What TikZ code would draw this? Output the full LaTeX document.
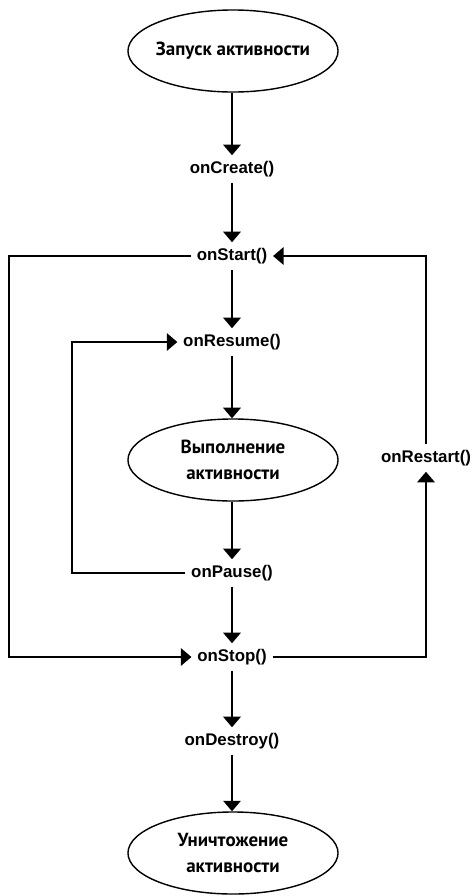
\documentclass[tikz,border=0pt]{standalone}
\usepackage{fontspec}
\setmainfont{Liberation Sans}
\newfontfamily\handfont{PT Sans}
\usetikzlibrary{shapes.geometric, arrows.meta}
\tikzset{line/.style={line width=1pt, black}}
\tikzset{flow/.style={line, -{Triangle[width=12.5pt,length=7.5pt]}}}
\tikzset{call/.style={font=\fontsize{12}{14}\selectfont\bfseries, inner sep=4pt}}
\tikzset{stage/.style={draw, line width=1pt, ellipse, minimum width=5.25cm, minimum height=2.05cm,
  inner sep=0pt, inner xsep=-1cm, align=center, font=\handfont\fontsize{13.5}{19}\selectfont\bfseries}}

\begin{document}
\begin{tikzpicture}[x=0.025cm,y=-0.025cm]
\useasboundingbox (0,0) rectangle (475,896);
\node[stage] (launch) at (233,51) {Запуск активности};
\node[call] (create) at (232,169) {onCreate()};
\node[call] (start) at (232,256) {onStart()};
\node[call] (resume) at (232,342) {onResume()};
\node[stage] (running) at (233,460) {Выполнение\\активности};
\node[call] (restart) at (426,458) {onRestart()};
\node[call] (pause) at (232,573) {onPause()};
\node[call] (stop) at (232,657) {onStop()};
\node[call] (destroy) at (232,741) {onDestroy()};
\node[stage] (finish) at (233,853) {Уничтожение\\активности};
\coordinate (outerL) at (9,0);
\coordinate (innerL) at (72,0);

\draw[flow] (launch.south -| create) -- (create);
\draw[flow] (create) -- (start);
\draw[flow] (start) -- (resume);
\draw[flow] (resume) -- (running.north -| resume);
\draw[flow] (running.south -| pause) -- (pause);
\draw[flow] (pause) -- (stop);
\draw[flow] (stop) -- (destroy);
\draw[flow] (destroy) -- (finish.north -| destroy);
\draw[flow] (start.west) -- (start.west -| outerL) |- (stop.west);
\draw[flow] (pause.west) -- (pause.west -| innerL) |- (resume.west);
\draw[flow] (stop.east) -| (restart.south);
\draw[flow] (restart.north) |- (start.east);
\end{tikzpicture}
\end{document}
